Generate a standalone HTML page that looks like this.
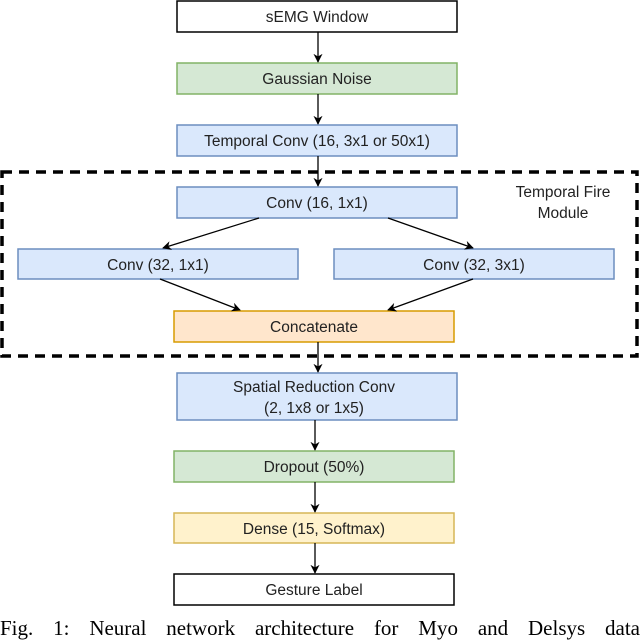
<!DOCTYPE html>
<html><head><style>
body{margin:0;background:#fff;width:640px;height:638px;overflow:hidden;position:relative}
svg{position:absolute;left:0;top:0}
.cap{position:absolute;left:0;top:616px;width:640px;font-family:"Liberation Serif",serif;font-size:21px;white-space:nowrap;text-align:justify;text-align-last:justify;line-height:24px;color:#000}
</style></head><body>
<svg width="640" height="638" font-family="Liberation Sans, sans-serif" font-size="15.5" fill="#222">
<defs><marker id="a" viewBox="0 0 10 10" refX="9" refY="5" markerWidth="7" markerHeight="7" orient="auto"><path d="M0,0 L10,5 L0,10 L3,5z" fill="#000"/></marker></defs>
<rect x="2" y="172" width="635" height="184" fill="none" stroke="#000" stroke-width="3.5" stroke-dasharray="10,7"/>
<g stroke-width="1.5">
<rect x="177" y="1" width="280" height="31" fill="#fff" stroke="#000"/>
<rect x="177" y="63" width="280" height="31" fill="#d5e8d4" stroke="#82b366"/>
<rect x="177" y="125" width="280" height="31" fill="#dae8fc" stroke="#6c8ebf"/>
<rect x="177" y="187" width="280" height="31" fill="#dae8fc" stroke="#6c8ebf"/>
<rect x="18" y="249" width="280" height="30" fill="#dae8fc" stroke="#6c8ebf"/>
<rect x="334" y="249" width="280" height="30" fill="#dae8fc" stroke="#6c8ebf"/>
<rect x="174" y="311" width="280" height="31" fill="#ffe6cc" stroke="#d79b00"/>
<rect x="177" y="373" width="280" height="47" fill="#dae8fc" stroke="#6c8ebf"/>
<rect x="174" y="451" width="280" height="31" fill="#d5e8d4" stroke="#82b366"/>
<rect x="174" y="513" width="280" height="30" fill="#fff2cc" stroke="#d6b656"/>
<rect x="174" y="574" width="280" height="31" fill="#fff" stroke="#000"/>
</g>
<g stroke="#000" stroke-width="1.3" marker-end="url(#a)">
<line x1="318" y1="32" x2="318" y2="62"/>
<line x1="318" y1="94" x2="318" y2="124"/>
<line x1="318" y1="156" x2="318" y2="186"/>
<line x1="259" y1="218" x2="163" y2="248"/>
<line x1="388" y1="218" x2="473" y2="248"/>
<line x1="160" y1="279" x2="240" y2="310"/>
<line x1="473" y1="279" x2="388" y2="310"/>
<line x1="318" y1="342" x2="318" y2="372"/>
<line x1="315" y1="420" x2="315" y2="450"/>
<line x1="315" y1="482" x2="315" y2="512"/>
<line x1="315" y1="543" x2="315" y2="573"/>
</g>
<g text-anchor="middle">
<text x="317" y="22">sEMG Window</text>
<text x="317" y="84">Gaussian Noise</text>
<text x="317" y="146">Temporal Conv (16, 3x1 or 50x1)</text>
<text x="317" y="208">Conv (16, 1x1)</text>
<text x="158" y="270">Conv (32, 1x1)</text>
<text x="474" y="270">Conv (32, 3x1)</text>
<text x="314" y="332">Concatenate</text>
<text x="314" y="392">Spatial Reduction Conv</text>
<text x="314" y="413">(2, 1x8 or 1x5)</text>
<text x="314" y="472">Dropout (50%)</text>
<text x="314" y="534">Dense (15, Softmax)</text>
<text x="314" y="595">Gesture Label</text>
<text x="563" y="197">Temporal Fire</text>
<text x="563" y="218">Module</text>
</g>
</svg>
<div class="cap">Fig. 1: Neural network architecture for Myo and Delsys data</div>
</body></html>
